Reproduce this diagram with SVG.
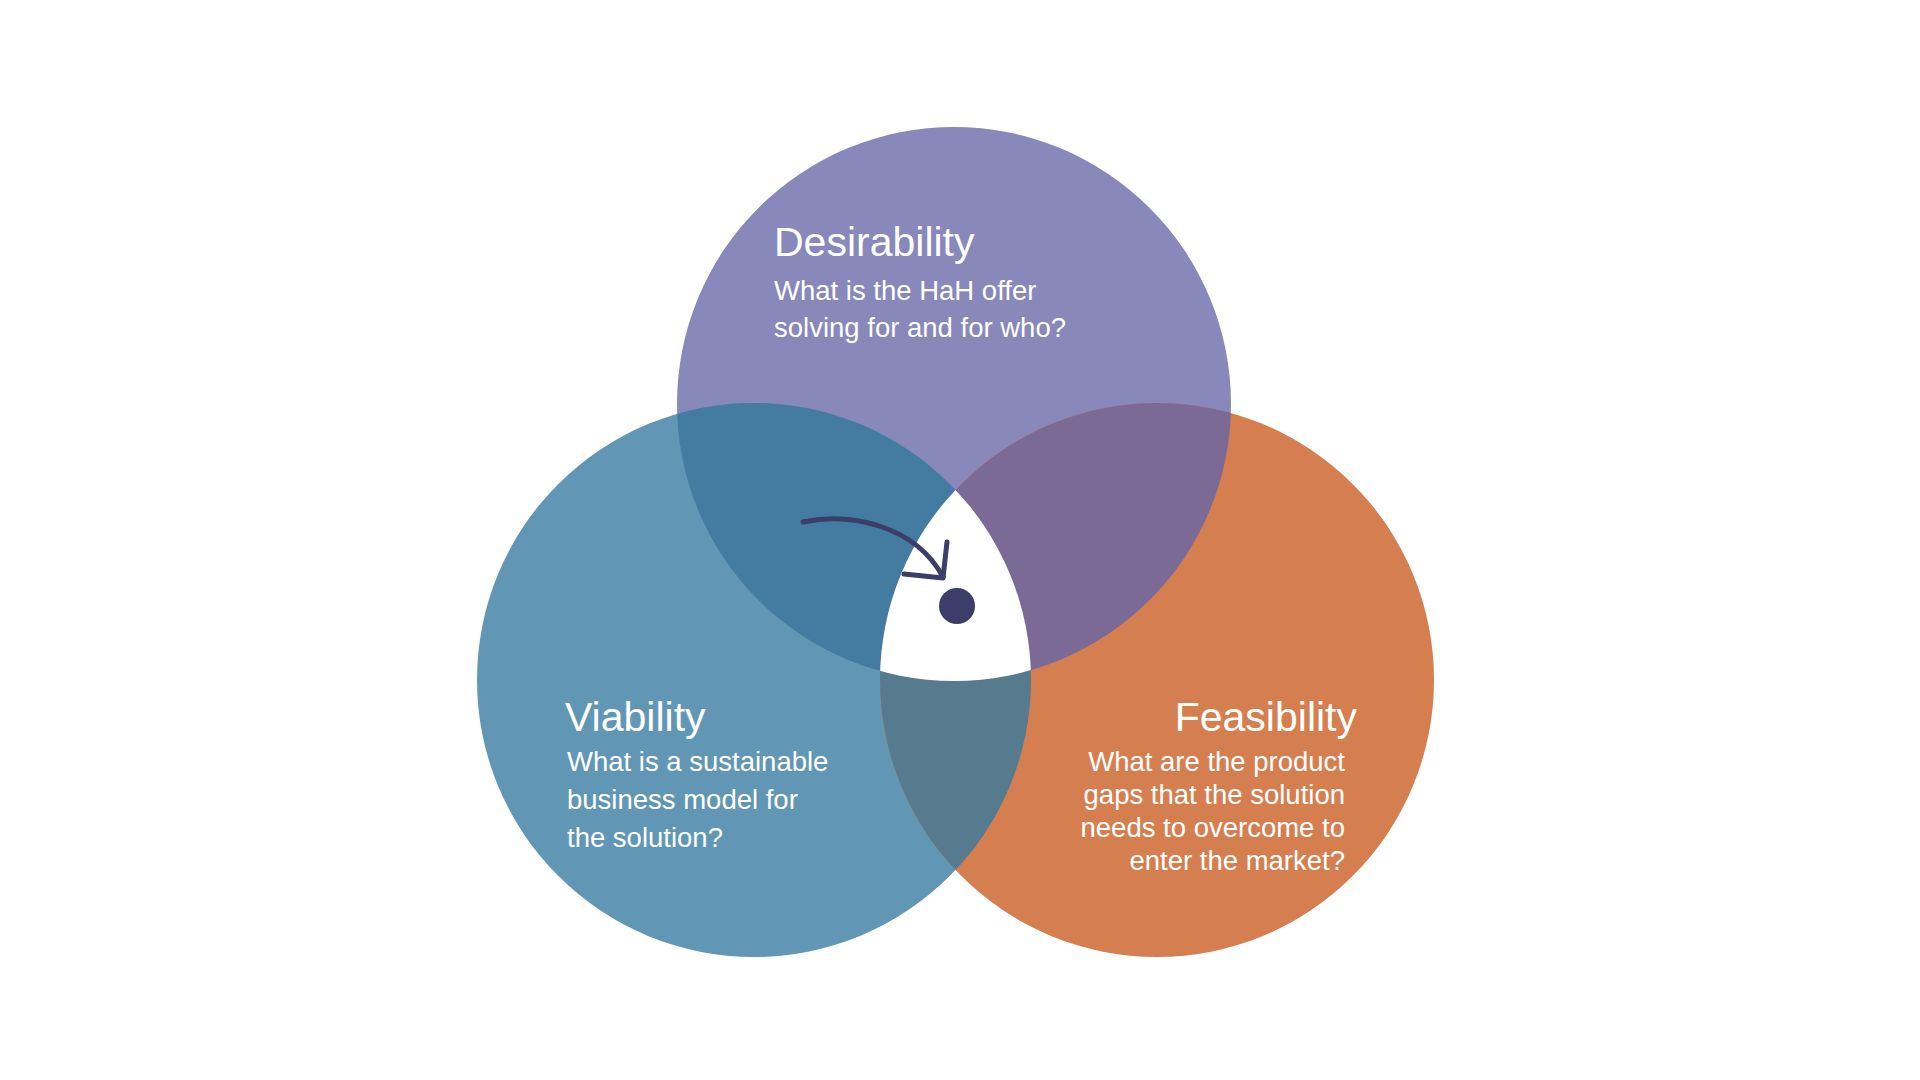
<svg xmlns="http://www.w3.org/2000/svg" width="1920" height="1080" viewBox="0 0 1920 1080">
  <style>
    .title { font-family: "Liberation Sans", Arial, sans-serif; font-size: 41px; fill: #ffffff; }
    .sub { font-family: "Liberation Sans", Arial, sans-serif; font-size: 27.5px; fill: #ffffff; }
    .ink { stroke: #3D3D69; stroke-width: 5; fill: none; stroke-linecap: round; stroke-linejoin: round; }
  </style>
  <defs>
    <circle id="cTop" cx="954" cy="404" r="277"/>
    <circle id="cLeft" cx="754" cy="680" r="277"/>
    <circle id="cRight" cx="1157" cy="680" r="277"/>
    <clipPath id="clipTop"><use href="#cTop"/></clipPath>
    <clipPath id="clipLeft"><use href="#cLeft"/></clipPath>
  </defs>
  <rect width="1920" height="1080" fill="#ffffff"/>

  <g id="desirability">
    <use href="#cTop" fill="#8888BA"/>
  </g>
  <g id="viability">
    <use href="#cLeft" fill="#6197B4"/>
  </g>
  <g id="feasibility">
    <use href="#cRight" fill="#D57F50"/>
  </g>

  <g id="overlaps">
    <use href="#cLeft" fill="#447BA1" clip-path="url(#clipTop)"/>
    <use href="#cRight" fill="#7C6A96" clip-path="url(#clipTop)"/>
    <use href="#cRight" fill="#577B8E" clip-path="url(#clipLeft)"/>
    <g clip-path="url(#clipTop)">
      <use href="#cRight" fill="#ffffff" clip-path="url(#clipLeft)"/>
    </g>
  </g>

  <g id="desirability-text">
    <text class="title" x="774" y="256">Desirability</text>
    <text class="sub" x="774" y="300">What is the HaH offer</text>
    <text class="sub" x="774" y="337">solving for and for who?</text>
  </g>
  <g id="viability-text">
    <text class="title" x="565" y="731">Viability</text>
    <text class="sub" x="567" y="771">What is a sustainable</text>
    <text class="sub" x="567" y="809">business model for</text>
    <text class="sub" x="567" y="847">the solution?</text>
  </g>
  <g id="feasibility-text" text-anchor="end">
    <text class="title" x="1357" y="731">Feasibility</text>
    <text class="sub" x="1345" y="771">What are the product</text>
    <text class="sub" x="1345" y="804">gaps that the solution</text>
    <text class="sub" x="1345" y="837">needs to overcome to</text>
    <text class="sub" x="1345" y="870">enter the market?</text>
  </g>

  <g id="center-point">
    <circle cx="957" cy="606" r="18" fill="#3D3D69"/>
  </g>

  <g id="connectors">
    <path class="ink" d="M803,522 C850,512 915,525 943,577"/>
    <path class="ink" d="M947,542 L943,578 L904,574"/>
  </g>
</svg>
